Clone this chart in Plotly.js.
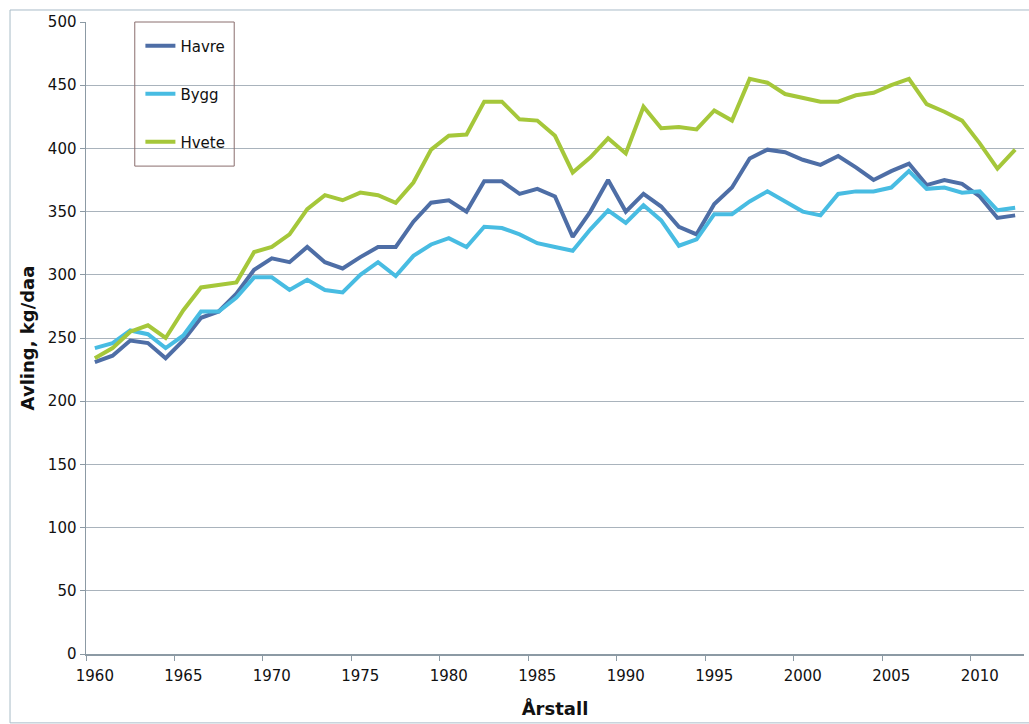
<!DOCTYPE html>
<html>
<head>
<meta charset="utf-8">
<script src="https://cdn.plot.ly/plotly-3.0.1.min.js"></script>
<style>html,body{margin:0;padding:0;background:#fff;}#chart{width:1029px;height:724px;}</style>
</head>
<body>
<div id="chart"></div>
<script>
const years = [1960,1961,1962,1963,1964,1965,1966,1967,1968,1969,1970,1971,1972,1973,1974,1975,1976,1977,1978,1979,1980,1981,1982,1983,1984,1985,1986,1987,1988,1989,1990,1991,1992,1993,1994,1995,1996,1997,1998,1999,2000,2001,2002,2003,2004,2005,2006,2007,2008,2009,2010,2011,2012];
const havre = [231,236,248,246,234,248,266,271,285,304,313,310,322,310,305,314,322,322,342,357,359,350,374,374,364,368,362,330,350,375,350,364,354,338,332,356,369,392,399,397,391,387,394,385,375,382,388,371,375,372,362,345,347];
const bygg = [242,246,256,253,242,252,271,271,282,298,298,288,296,288,286,300,310,299,315,324,329,322,338,337,332,325,322,319,336,351,341,355,343,323,328,348,348,358,366,358,350,347,364,366,366,369,382,368,369,365,366,351,353];
const hvete = [234,242,255,260,250,272,290,292,294,318,322,332,352,363,359,365,363,357,373,399,410,411,437,437,423,422,410,381,393,408,396,433,416,417,415,430,422,455,452,443,440,437,437,442,444,450,455,435,429,422,404,384,399];
const seriesNames = ['Havre','Bygg','Hvete'];
const yTickVals = [0,50,100,150,200,250,300,350,400,450,500];
const xTickVals = [1960,1965,1970,1975,1980,1985,1990,1995,2000,2005,2010];

const colors = ['#4e6ea6','#48bce2','#a5c73a'];
const allSeries = [havre, bygg, hvete];
const traces = allSeries.map((vals, i) => ({
  x: years, y: vals, name: seriesNames[i], type: 'scatter', mode: 'lines',
  line: {color: colors[i], width: 4}, legendgroup: 'g' + i
}));

const font = 'DejaVu Sans, Verdana, sans-serif';
const layout = {
  width: 1029, height: 724,
  margin: {l: 86, r: 5, t: 22, b: 70},
  paper_bgcolor: '#ffffff', plot_bgcolor: '#ffffff',
  font: {family: font, size: 15, color: '#111111'},
  showlegend: true,
  legend: {
    x: 0.058, y: 0.988, xanchor: 'left', yanchor: 'top',
    bgcolor: 'rgba(0,0,0,0)', borderwidth: 0,
    font: {family: font, size: 15, color: '#111111'},
    tracegroupgap: 25.5, traceorder: 'grouped', itemwidth: 30
  },
  xaxis: {
    range: [1959.5, 2012.5], tickmode: 'array', tickvals: xTickVals,
    ticks: '', showgrid: false, zeroline: false,
    showline: true, linecolor: '#8c9aa4', linewidth: 1.5,
    tickfont: {family: font, size: 15, color: '#111111'},
    ticklabelstandoff: 7,
    minor: {tick0: 1959.5, dtick: 5, ticks: 'outside', ticklen: 5, tickcolor: '#8c9aa4', showgrid: false},
    title: {text: '<b>Årstall</b>', font: {family: font, size: 18, color: '#111111'}, standoff: 19}
  },
  yaxis: {
    range: [0, 500], tickmode: 'array', tickvals: yTickVals,
    ticks: 'outside', ticklen: 5, tickcolor: '#8c9aa4',
    showgrid: true, gridcolor: '#a9b3bc', gridwidth: 1, zeroline: false,
    showline: true, linecolor: '#8c9aa4', linewidth: 1.5,
    tickfont: {family: font, size: 15, color: '#111111'},
    title: {text: '<b>Avling, kg/daa</b>', font: {family: font, size: 18, color: '#111111'}, standoff: 8}
  },
  shapes: [
    {type: 'rect', xref: 'paper', yref: 'paper', x0: 0.052, x1: 0.158, y0: 0.772, y1: 1.0,
     line: {color: '#8a6e6e', width: 1}, fillcolor: 'rgba(0,0,0,0)', layer: 'above'},
    {type: 'rect', xref: 'paper', yref: 'paper', x0: -0.081, x1: 1.2, y0: -0.109, y1: 1.019,
     line: {color: '#a9bcc8', width: 1}, fillcolor: 'rgba(0,0,0,0)', layer: 'below'}
  ]
};

Plotly.newPlot('chart', traces, layout, {displayModeBar: false, staticPlot: true});
</script>
</body>
</html>
